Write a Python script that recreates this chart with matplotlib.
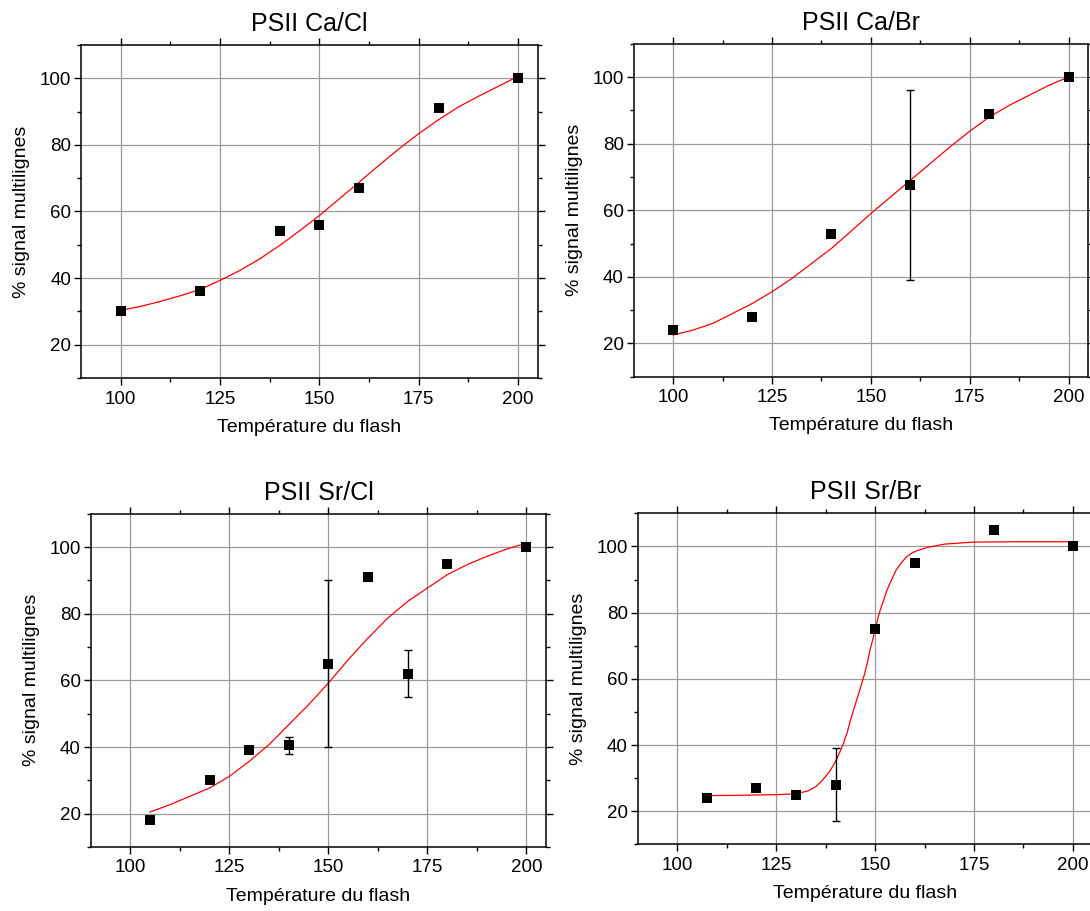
import numpy as np
import matplotlib
matplotlib.use("Agg")
import matplotlib.pyplot as plt
from matplotlib.ticker import MultipleLocator

plt.rcParams["font.family"] = ["Liberation Sans", "DejaVu Sans"]

W, H = 1090, 911

TITLES = ["PSII Ca/Cl", "PSII Ca/Br", "PSII Sr/Cl", "PSII Sr/Br"]
XLABEL = "Température du flash"
YLABEL = "% signal multilignes"

# mesures (points noirs)
ca_cl_x = [100, 120, 140, 150, 160, 180, 200]
ca_cl_y = [30, 36, 54, 56, 67, 91, 100]
ca_cl_err = [0, 0, 0, 0, 0, 0, 0]

ca_br_x = [100, 120, 140, 160, 180, 200]
ca_br_y = [24, 28, 53, 67.5, 89, 100]
ca_br_err = [0, 0, 0, 28.5, 0, 0]

sr_cl_x = [105, 120, 130, 140, 150, 160, 170, 180, 200]
sr_cl_y = [18, 30, 39, 40.5, 65, 91, 62, 95, 100]
sr_cl_err = [0, 0, 0, 2.5, 25, 0, 7, 0, 0]

sr_br_x = [107.5, 120, 130, 140, 150, 160, 180, 200]
sr_br_y = [24, 27, 25, 28, 75, 95, 105, 100]
sr_br_err = [0, 0, 0, 11, 0, 0, 0, 0]

# courbes d'ajustement
ca_cl_fit_x = [100, 105, 110, 115, 120, 125, 130, 135, 140, 145, 150, 155,
               160, 165, 170, 175, 180, 185, 190, 195, 200]
ca_cl_fit_y = [30.3, 31.5, 33.0, 34.7, 36.6, 39.3, 42.3, 45.8, 49.8, 54.2,
               58.8, 63.8, 68.8, 73.9, 78.8, 83.4, 87.6, 91.4, 94.6, 97.6,
               100.6]

ca_br_fit_x = [100, 105, 110, 115, 120, 125, 130, 135, 140, 145, 150, 155,
               160, 165, 170, 175, 180, 185, 190, 195, 200]
ca_br_fit_y = [22.5, 24.0, 26.0, 29.0, 32.0, 35.5, 39.5, 44.0, 48.5, 53.7,
               59.0, 64.0, 69.0, 74.0, 79.0, 83.7, 88.0, 91.5, 94.5, 97.5,
               100.0]

sr_cl_fit_x = [105, 110, 115, 120, 125, 130, 135, 140, 145, 150, 155, 160,
               165, 170, 175, 180, 185, 190, 195, 200]
sr_cl_fit_y = [20.5, 22.7, 25.2, 27.7, 31.2, 35.7, 40.7, 46.7, 52.7, 59.2,
               66.2, 72.7, 78.7, 83.7, 87.7, 91.7, 94.7, 97.2, 99.4, 101.2]

sr_br_fit_x = [107.5, 115, 120, 125, 129.7, 133, 135, 136.8, 138.5, 140, 141,
               142, 143, 143.8, 144.7, 145.6, 146.5, 147.4, 148.1, 148.7,
               149.4, 150, 150.6, 151.3, 152.2, 153, 154.2, 155.3, 156.6, 158,
               159.3, 160.6, 163.2, 167.6, 175, 185, 200]
sr_br_fit_y = [24.7, 24.8, 24.9, 25.0, 25.2, 26.1, 27.4, 29.5, 32.0, 35.0,
               37.6, 40.5, 44.0, 47.6, 51.1, 54.6, 58.1, 61.7, 65.2, 68.7,
               71.8, 74.7, 77.8, 80.8, 83.9, 86.8, 90.0, 92.8, 95.0, 96.9,
               98.0, 98.7, 99.7, 100.7, 101.3, 101.4, 101.4]

PANELS = [
    (ca_cl_x, ca_cl_y, ca_cl_err, ca_cl_fit_x, ca_cl_fit_y),
    (ca_br_x, ca_br_y, ca_br_err, ca_br_fit_x, ca_br_fit_y),
    (sr_cl_x, sr_cl_y, sr_cl_err, sr_cl_fit_x, sr_cl_fit_y),
    (sr_br_x, sr_br_y, sr_br_err, sr_br_fit_x, sr_br_fit_y),
]

# cadres des axes en pixels : gauche, droite, haut, bas
BOXES = [(81, 538, 45, 378), (633.7, 1088.3, 43.7, 376.7),
         (90.7, 546.3, 513.7, 847), (637.7, 1092.7, 513.3, 844.3)]

fig = plt.figure(figsize=(W / 100, H / 100), dpi=100)

for (x, y, err, fx, fy), title, (l, r, t, b) in zip(PANELS, TITLES, BOXES):
    ax = fig.add_axes([l / W, (H - b) / H, (r - l) / W, (b - t) / H])
    ax.set_xlim(90, 205)
    ax.set_ylim(10, 110)
    ax.xaxis.set_major_locator(MultipleLocator(25))
    ax.xaxis.set_minor_locator(MultipleLocator(12.5))
    ax.yaxis.set_minor_locator(MultipleLocator(10))
    ax.set_yticks([20, 40, 60, 80, 100])
    ax.grid(True, which="major", color="#9a9a9a", lw=0.9)
    ax.set_axisbelow(True)

    ax.plot(fx, fy, color="red", lw=0.9, zorder=3)
    err = np.asarray(err, dtype=float)
    m = err > 0
    ax.errorbar(np.asarray(x)[m], np.asarray(y)[m], yerr=err[m], fmt="none",
                ecolor="black", elinewidth=1.0, capsize=3, capthick=1.0,
                zorder=4)
    ax.plot(x, y, "s", color="black", ms=6.8, mew=0, zorder=5)

    for s in ax.spines.values():
        s.set_linewidth(1.1)
        s.set_color("black")
    ax.tick_params(which="both", direction="out", top=True, right=True,
                   labeltop=False, labelright=False, width=1.0)
    ax.tick_params(which="major", length=5, labelsize=13.5)
    ax.tick_params(axis="y", which="major", pad=2)
    ax.tick_params(axis="x", which="major", pad=4)
    ax.tick_params(which="minor", length=3)

    ax.set_title(title, fontsize=18, pad=10)
    ax.set_xlabel(XLABEL, fontsize=14, labelpad=8)
    ax.set_ylabel(YLABEL, fontsize=14, labelpad=7)

fig.savefig("out.png", dpi=100)
